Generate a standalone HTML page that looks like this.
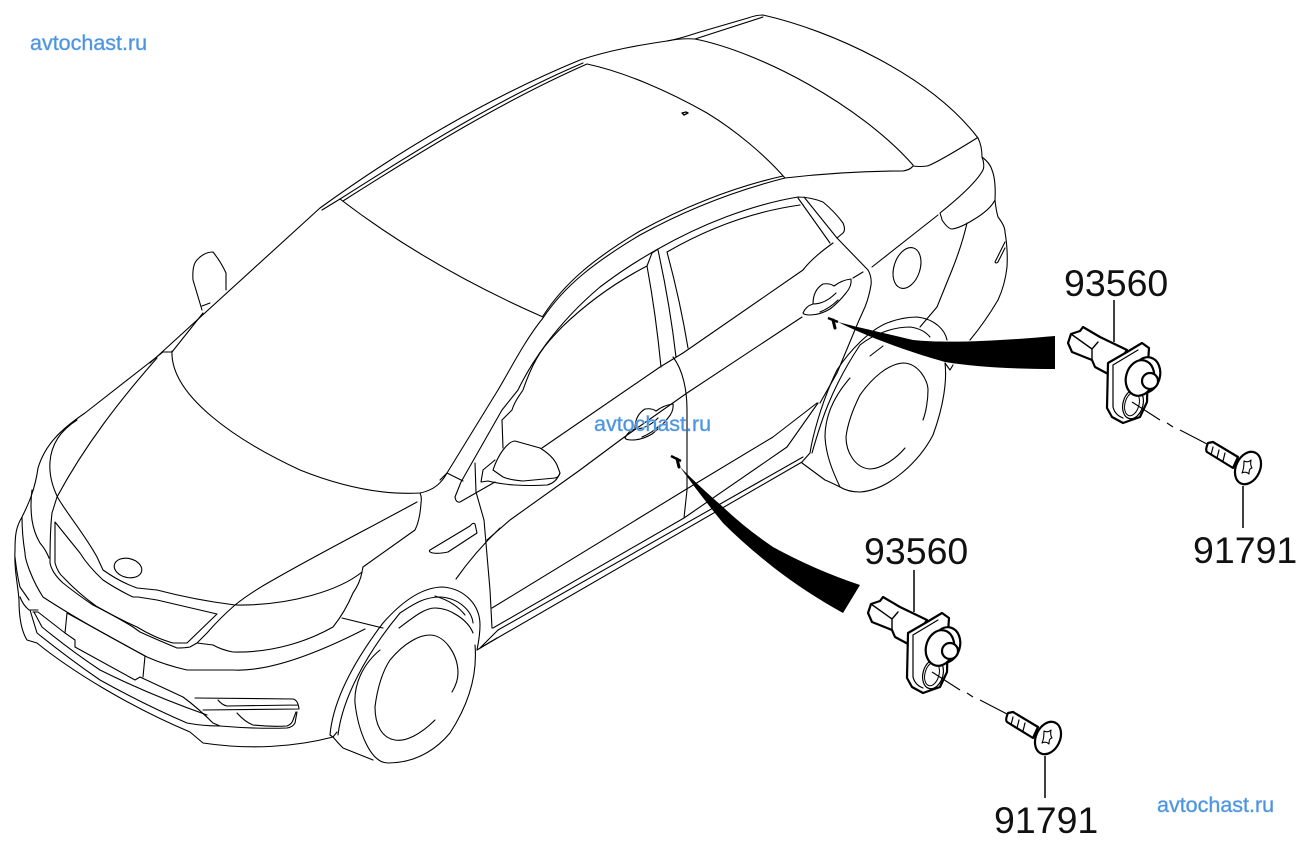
<!DOCTYPE html>
<html><head><meta charset="utf-8"><style>
html,body{margin:0;padding:0;background:#fff}
svg{display:block}
.c{fill:none;stroke:#000;stroke-width:1.1;stroke-linejoin:round;stroke-linecap:round}
.p{fill:#fff;stroke:#000;stroke-width:2.2;stroke-linejoin:round;stroke-linecap:round}
.t{fill:none;stroke:#000;stroke-width:1.1}
.l{fill:none;stroke:#000;stroke-width:1.5}
.n{font-family:"Liberation Sans",sans-serif;font-size:37.5px;fill:#111}
.w{font-family:"Liberation Sans",sans-serif;font-size:21.5px;fill:#4d94e0;stroke:#b5d4f2;stroke-width:.8px;paint-order:stroke}
</style></head><body>
<svg width="1306" height="848" viewBox="0 0 1306 848" xmlns="http://www.w3.org/2000/svg">
<g class="c">
<!-- roof outer and trunk -->
<path d="M150 363L320 208C400 150 490 97 580 60C610 50 640 45 667 41C680 39 690 35 700 32L748 18Q756 15 763 15C830 30 930 75 978 138"/>
<path d="M322 210L340 199C420 148 500 98 583 63"/>
<path d="M343 201C423 150 505 100 587 64"/>
<path d="M695 39L763 17"/>
<path d="M667 41Q682 38 695 39C760 52 860 105 913 165"/>
<path d="M587 64C625 72 670 92 707 113C735 130 765 155 785 178"/>
<path d="M785 178C820 174 865 171 903 171Q910 170 913 166Q920 167 927 166Q935 164 977 138"/>
<path d="M978 138Q982 146 982 157Q990 163 992 170Q996 180 995 200Q996 210 998 217Q1005 226 1005 232Q1008 250 1007 267Q1005 285 998 300Q985 322 970 340"/>
<path d="M982 157Q985 165 983 170Q975 185 940 213Q942 219 942 220Q948 229 952 229Q960 228 973 220Q990 210 995 200"/>
<path d="M938 215L872 267M863 272L853 278"/>
<path d="M967 223Q962 245 952 270L937 307L920 327"/>
<path d="M995 262L1005 242M995 262Q996 264 998 262L1005 248"/>
<ellipse cx="907" cy="268" rx="13" ry="21" transform="rotate(18 907 268)"/>
<path d="M682 113l4-1 2 1-4 2z" stroke-width="1.4"/>
<!-- windshield -->
<path d="M340 199C400 245 470 285 543 317"/>
<path d="M162 352H172L203 313"/>
<path d="M172 351C170 395 235 440 300 470C345 488 385 495 420 493C435 490 442 482 447 473"/>
<!-- pillar / door rails -->
<path d="M440 480L447 473L498 390C510 370 525 340 543 318C565 285 595 262 640 235C680 213 730 192 785 178"/>
<path d="M543 316C565 282 595 258 640 231C680 209 730 188 783 176"/>
<path d="M455 497L461 482L502 410L518 390C530 365 555 325 600 287C620 272 635 262 658 249C700 225 750 205 798 197"/>
<path d="M502 420L512 410C515 400 520 395 523 390C535 355 545 345 562 327C590 300 620 280 647 266L652 253L658 249"/>
<path d="M667 252C705 230 750 212 800 205"/>
<path d="M647 266Q656 315 661 367M658 250Q670 305 676 357M667 252Q680 300 688 348"/>
<path d="M798 197Q810 197 823 202Q835 212 843 223Q846 230 843 233L837 238M804 197L837 238M798 198L830 243"/>
<path d="M837 238L868 270Q872 277 871 285Q869 297 865 307Q860 318 857 325L837 373L820 403"/>
<path d="M833 243Q812 258 803 270L683 353L660 367L542 448"/>
<path d="M802 317L687 393L623 438L580 470L510 520L487 540"/>
<path d="M673 357C683 370 687 390 687 410V490L684 518"/>
<path d="M475 463L476 492L484 520L490 590L492 628"/>
<path d="M492 608L685 490L773 437L817 403"/>
<path d="M493 628L684 518L787 447L818 403"/>
<path d="M498 630L803 457"/>
<path d="M498 630L480 648L802 462"/>
<path d="M502 420L503 448"/>
<path d="M447 473L463 481M455 497Q456 503 460 502L495 482"/>
<path d="M493 470Q497 458 503 450Q510 441 515 441L540 448Q553 456 557 465L560 473Q559 477 555 478L523 481Q510 480 503 477Z" fill="#fff"/>
<path d="M495 460L483 470L481 482L488 481Q500 484 515 485Q530 486 547 485Q556 483 560 473"/>
<!-- far mirror -->
<path d="M202 310L193 280Q192 265 197 260Q204 252 213 252Q221 262 226 273V290"/>
<path d="M202 306L210 303"/>
<!-- hood and front -->
<path d="M163 352L85 413C60 430 45 445 38 468C35 490 28 505 22 517C16 527 15 535 15 550C14 570 18 585 19 600C19 620 22 632 27 640L37 643C70 670 130 707 190 732L203 743C250 750 295 747 333 737"/>
<path d="M157 358C120 400 85 445 57 497L52 513C50 530 50 550 50 563Q52 573 63 583Q78 595 93 605Q115 616 133 627L140 632Q160 641 177 648Q185 648 190 647L197 643"/>
<path d="M77 420C58 432 51 447 50 462C49 475 53 488 58 498C68 515 85 535 97 557L103 570Q120 582 137 588L157 590Q195 600 235 605"/>
<path d="M55 522Q55 545 55 563Q58 573 63 577Q78 593 96 606Q115 617 137 627Q155 638 173 643H187L217 614L157 600L138 597H133Q118 590 103 580Q88 566 80 553L55 522Z"/>
<ellipse cx="128" cy="568" rx="14" ry="9.5" transform="rotate(14 128 568)"/>
<path d="M417 502C375 525 320 553 273 580C255 590 245 597 235 605Q220 618 207 633L197 643"/>
<path d="M420 493Q422 497 421 503Q420 520 415 530L363 567L362 572C340 590 290 606 235 605"/>
<path d="M197 643L213 645Q222 650 233 652C275 653 310 640 333 627Q345 612 353 593Q360 583 362 572"/>
<path d="M342 618L383 628M365 629C320 652 270 672 233 670H187Q165 665 147 657C110 637 75 618 43 597C32 580 25 560 25 553Q22 535 22 517"/>
<path d="M32 490Q30 505 32 520Q34 533 40 543Q46 550 49 558"/>
<path d="M15 557Q17 575 20 587L29 600M20 597Q23 605 29 610H38"/>
<path d="M67 613L65 633L75 640V647M67 613L145 656L143 677"/>
<path d="M33 612H38L65 633M75 647L135 680L140 677L183 697Q198 708 213 723L220 726"/>
<path d="M34 612L42 627Q70 650 100 670Q150 695 207 715"/>
<path d="M30 610L37 633Q68 658 100 680Q145 705 187 723Q203 726 220 726Q255 729 287 728Q293 727 295 723L297 712"/>
<path d="M195 698L293 699Q298 700 299 709L203 710M218 700Q222 705 227 706L298 705M237 713Q245 722 253 725Q270 727 287 726Q292 724 293 720L296 712"/>
<path d="M430 550L470 526Q473 522 475 524L477 533L448 552Q438 554 433 553Q428 552 430 550Z"/>
<path d="M456 579Q475 552 500 528"/>
<!-- front wheel -->
<path d="M330 735C333 700 355 660 383 623C405 598 425 587 443 587C465 589 480 605 480 625C480 635 478 645 477 650"/>
<path d="M338 735C342 700 365 655 400 613C415 603 425 597 440 597C460 598 472 612 473 623"/>
<path d="M330 735L333 737L337 732M333 737Q338 743 343 748L373 760"/>
<path d="M380 650C362 665 354 685 355 703C358 730 370 763 388 763C420 763 440 745 450 733C465 710 478 680 475 645"/>
<path d="M399 628C415 616 425 608 435 608C450 608 468 620 473 633M435 596Q455 602 465 615"/>
<path d="M435 720C420 735 405 742 395 740C382 738 375 725 375 707C377 690 382 672 390 660C405 642 420 635 430 635C445 635 458 655 458 673C458 680 455 687 452 692"/>
<path d="M477 650L497 638"/>
<!-- handles -->
<g id="h"><path d="M803 313Q806 306 813 304Q813 290 823 284Q830 283 834 286Q842 280 851 279Q852 286 846 293Q838 303 830 309Q820 315 810 315Q804 315 803 313Z"/>
<path d="M813 304Q825 304 836 293M820 312Q830 308 838 300"/></g>
<use href="#h" transform="translate(-178 125)"/>
<!-- rear wheel -->
<path d="M802 462L810 453C812 440 820 405 837 370C850 350 870 330 887 323C900 318 910 317 917 317C935 319 945 330 947 340"/>
<path d="M812 453C820 425 830 390 860 345C875 333 895 327 910 327C918 328 925 331 930 337"/>
<path d="M802 463L825 480Q830 482 840 487Q848 492 860 492C890 490 920 460 933 435C944 405 947 380 945 363"/>
<path d="M850 378C835 395 825 415 825 437C826 455 832 470 840 487"/>
<path d="M870 356L883 346"/>
<path d="M905 448C895 460 880 469 870 469C855 468 846 452 846 437C848 420 855 405 860 395C872 378 888 364 903 363C918 363 928 380 928 390C928 400 926 412 923 420"/>
<path d="M945 363L950 370L953 365"/>
</g>
<!-- wedges -->
<path d="M838 322C860 328 880 332 913 340C950 344 1010 340 1055 336V369C1015 369 975 367 945 362C910 352 870 338 838 322Z" fill="#000"/>
<path d="M828 318L838 322" stroke="#000" stroke-width="2.4" fill="none"/>
<path d="M833 320L835 328" stroke="#000" stroke-width="3" fill="none" stroke-linecap="round"/>
<path d="M680 467Q700 487 723 507Q745 528 773 547Q815 570 860 585L843 613Q805 592 773 567Q745 545 723 523Q700 495 680 467Z" fill="#000"/>
<path d="M671 456L681 461" stroke="#000" stroke-width="2.4" fill="none"/>
<path d="M677 459L679 467" stroke="#000" stroke-width="3" fill="none" stroke-linecap="round"/>
<!-- leader lines -->
<path class="l" d="M1114 300V342M1243 486V528M914 570V612M1045 756V798"/>
<!-- part 1 -->
<g id="a">
<g class="p">
<path d="M1068 343L1071 334L1080 331L1083 327L1100 337L1127 350L1110 375L1095 367L1092 360L1072 352Z"/>
<path d="M1071 334L1092 349V360M1098 342L1092 349" fill="none" stroke-width="1.4"/>
<path d="M1108 363L1127 352L1142 343L1149 348L1148 363L1147 402L1140 417L1123 423L1112 417L1107 408Z"/>
<path d="M1113 365L1138 350M1113 365V407Q1115 415 1123 418" fill="none" stroke-width="1.2"/>
<ellipse cx="1133" cy="404" rx="10" ry="15" transform="rotate(15 1133 404)" stroke-width="1.2"/>
<ellipse cx="1132" cy="404" rx="7" ry="12" transform="rotate(15 1132 404)" stroke-width="1"/>
<ellipse cx="1146" cy="375" rx="14" ry="18" transform="rotate(15 1146 375)"/>
<ellipse cx="1140" cy="378" rx="14" ry="18" transform="rotate(15 1140 378)"/>
<circle cx="1150" cy="381" r="8"/>
</g>
<path class="t" d="M1132 402L1160 420M1167 423L1173 427M1180 430L1207 444"/>
<g class="p">
<path d="M1208 443Q1205 450 1207 452L1233 468L1238 457L1213 442Z"/>
<path d="M1213 447l-2 8M1219 450l-2 8M1225 453l-2 8" fill="none" stroke-width="1.2"/>
<ellipse cx="1248" cy="468" rx="12" ry="17" transform="rotate(25 1248 468)"/>
<path d="M1244 461q4 2 7-1q-1 5 1 8q-3 0-3 6q-3-3-7-1q2-4 2-12z" fill="none" stroke-width="1.1"/>
</g>
</g>
<use href="#a" transform="translate(-200 270)"/>
<text class="n" x="1064" y="296">93560</text>
<text class="n" x="864" y="564">93560</text>
<text class="n" x="1193" y="563">91791</text>
<text class="n" x="994" y="833">91791</text>
<text class="w" x="30" y="50">avtochast.ru</text>
<text class="w" x="594" y="431">avtochast.ru</text>
<text class="w" x="1157" y="812">avtochast.ru</text>
</svg>
</body></html>
